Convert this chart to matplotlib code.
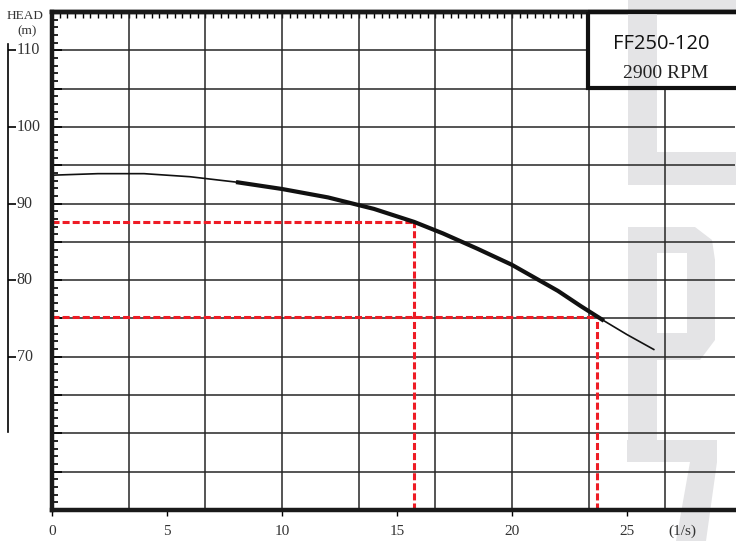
import matplotlib.pyplot as plt
import matplotlib.transforms as mtransforms
from matplotlib.patches import Rectangle, Polygon
import numpy as np

# pump curve: flow (1/s) vs head (m)
flow = [0, 2, 4, 6, 8, 10, 12, 14, 15.75, 17, 18.5, 20, 21, 22, 23, 24, 25, 26.2]
head = [93.7, 93.9, 93.9, 93.5, 92.8, 91.9, 90.8, 89.3, 87.6, 86.1, 84.1, 82.0,
        80.3, 78.6, 76.6, 74.7, 72.9, 70.9]
range_lo, range_hi = 8, 24          # thick part of the curve
duty_flow = [15.75, 23.7]
duty_head = [87.6, 75.2]
flow_ticks = [0, 5, 10, 15, 20, 25]
head_ticks = [70, 80, 90, 100, 110]
model = "FF250-120"
speed = "2900 RPM"

W, H = 736, 541
fig = plt.figure(figsize=(W / 100, H / 100), dpi=100)
px = mtransforms.Affine2D().scale(1 / W, -1 / H).translate(0, 1) + fig.transFigure

# light grey watermark in its own background axes (pixel coords, top origin)
bg = fig.add_axes([0, 0, 1, 1], zorder=-1)
bg.axis('off')
bg.set_xlim(0, W)
bg.set_ylim(H, 0)
grey = '#e4e4e6'
shapes = [
    [(628, 0), (657, 0), (657, 185), (628, 185)],
    [(628, 0), (736, 0), (736, 12), (628, 12)],
    [(657, 152), (736, 152), (736, 185), (657, 185)],
    [(628, 227), (657, 227), (657, 443), (628, 443)],
    [(628, 227), (695, 227), (712, 240), (715, 260), (715, 340), (700, 360),
     (628, 360), (628, 333), (687, 333), (687, 253), (628, 253)],
    [(627, 440), (717, 440), (717, 462), (706, 541), (676, 541), (690, 462), (627, 462)],
]
for s in shapes:
    bg.add_patch(Polygon(s, closed=True, color=grey, lw=0))

ax = fig.add_axes([52 / W, 1 - 510 / H, (735 - 52) / W, (510 - 12) / H])
ax.set_facecolor('none')
ax.set_xlim(0, 29.7)
ax.set_ylim(50, 115)

# grid
ax.vlines(np.arange(10 / 3, 29.7, 10 / 3), 50, 115, color='#262626', lw=1.1, zorder=1)
ax.hlines(np.arange(55, 115, 5), 0, 29.7, color='#262626', lw=1.1, zorder=1)

# duty point guides
red = '#ee1c25'
for q, h in zip(duty_flow, duty_head):
    ax.plot([0, q], [h, h], color=red, lw=2.2, dashes=(2.3, 1.0), zorder=3)
    ax.plot([q, q], [50, h], color=red, lw=2.2, dashes=(2.3, 1.0), zorder=3)

# curve
ax.plot(flow, head, color='#111111', lw=1.2, zorder=4, solid_capstyle='butt')
sel = [i for i, q in enumerate(flow) if range_lo <= q <= range_hi]
ax.plot([flow[i] for i in sel], [head[i] for i in sel], color='#111111', lw=3,
        zorder=4, solid_capstyle='butt')

# model box (white, the watermark band shows through it)
ax.add_patch(Rectangle((588, 12), 160, 76, transform=px, facecolor='white',
                       edgecolor='none', zorder=2.5, clip_on=False))
ax.add_patch(Rectangle((628, 12), 29, 76, transform=px, facecolor=grey,
                       edgecolor='none', zorder=2.6, clip_on=False))
ax.add_patch(Rectangle((588, 12), 160, 76, transform=px, fill=False,
                       edgecolor='#111111', lw=3, zorder=5, clip_on=False))
ax.text(661, 44, model, transform=px, ha='center', va='center', fontsize=14.5,
        family='Open Sans', color='#111111', zorder=6)
ax.text(666, 74, speed, transform=px, ha='center', va='center', fontsize=14,
        family='Liberation Serif', color='#222222', zorder=6)

# spines and ticks
for side in ['left', 'bottom', 'top']:
    ax.spines[side].set_linewidth(3.2)
    ax.spines[side].set_color('#1a1a1a')
ax.spines['right'].set_visible(False)
ax.spines['left'].set_zorder(7)
ax.spines['bottom'].set_zorder(7)

ax.set_xticks(flow_ticks)
ax.set_xticklabels([str(t) for t in flow_ticks], family='Liberation Serif',
                   fontsize=11, color='#333333')
ax.tick_params(axis='x', which='major', direction='out', length=4, width=1, pad=7,
               top=False)
ax.set_yticks(np.arange(50, 116, 5))
ax.set_yticks(np.arange(50, 116, 1), minor=True)
ax.tick_params(axis='y', which='major', direction='in', length=7, width=1.2,
               labelleft=False)
ax.tick_params(axis='y', which='minor', direction='in', length=4, width=1.2)

top = ax.secondary_xaxis('top')
top.set_xticks(np.arange(0, 29.7, 1 / 3))
top.tick_params(direction='in', length=4, width=1, labeltop=False)
top.spines['top'].set_linewidth(3.2)
top.spines['top'].set_color('#1a1a1a')

ax.text(682, 531, "(1/s)", transform=px, ha='center', va='center',
        family='Liberation Serif', fontsize=11, color='#333333')

# separate head scale on the far left
axl = fig.add_axes([8 / W, 1 - 510 / H, 40 / W, (510 - 12) / H])
axl.set_facecolor('none')
axl.set_ylim(50, 115)
axl.set_xlim(0, 1)
for side in ['right', 'top', 'bottom']:
    axl.spines[side].set_visible(False)
axl.spines['left'].set_bounds(60.2, 110.8)
axl.spines['left'].set_linewidth(1.2)
axl.set_xticks([])
axl.set_yticks(head_ticks)
axl.tick_params(axis='y', direction='in', length=6, width=1.2, labelleft=False)
for h in head_ticks:
    axl.text(0.22, h, str(h), ha='left', va='center', family='Liberation Serif',
             fontsize=11.5, color='#333333')

ax.text(25, 16, "HEAD", transform=px, ha='center', va='center',
        family='Liberation Serif', fontsize=9.5, color='#333333')
ax.text(27, 31, "(m)", transform=px, ha='center', va='center',
        family='Liberation Serif', fontsize=9.5, color='#333333')

fig.savefig('out.png', dpi=100)
